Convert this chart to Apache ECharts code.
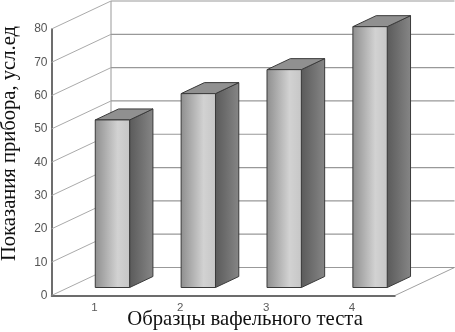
<!DOCTYPE html>
<html><head><meta charset="utf-8">
<style>html,body{margin:0;padding:0;background:#fff}#c{width:455px;height:332px}</style>
<script src="https://cdn.jsdelivr.net/npm/echarts@6/dist/echarts.min.js"></script>
</head><body><div id="c"></div>
<script>
const categories = ['1','2','3','4'];
const values = [50.3, 58.2, 65.4, 78.3];
const yTicks = [0,10,20,30,40,50,60,70,80];
const xTitle = 'Образцы вафельного теста';
const yTitle = 'Показания прибора, усл.ед';

const wallDX = 59.5, wallDY = -28;
const barDX = 18, barDY = -8, sideDX = 23.3, sideDY = -11;
const chart = echarts.init(document.getElementById('c'), null, {renderer:'canvas'});
const lg = (stops)=>new echarts.graphic.LinearGradient(0,0,1,0,stops);

chart.setOption({
  animation:false,
  backgroundColor:'#fff',
  grid:{left:51.5,right:60,top:29,bottom:36.5,containLabel:false},
  xAxis:{type:'category',data:categories,
    axisLine:{show:true,lineStyle:{color:'#3c3c3c',width:1.5}},
    axisTick:{show:false},splitLine:{show:false},
    axisLabel:{color:'#5a5a5a',fontSize:11.5,fontFamily:'Liberation Sans',margin:6}},
  yAxis:{type:'value',min:0,max:80,interval:10,
    axisLine:{show:true,lineStyle:{color:'#3c3c3c',width:1.5}},
    axisTick:{show:false},splitLine:{show:false},
    axisLabel:{color:'#555',fontSize:12,fontFamily:'Liberation Sans',margin:4}},
  graphic:[
    {type:'text',x:245,y:320,style:{text:xTitle,font:'20.7px "Liberation Serif"',fill:'#111',textAlign:'center',textVerticalAlign:'middle'}},
    {type:'text',rotation:Math.PI/2,x:10,y:143.5,style:{text:yTitle,font:'20.6px "Liberation Serif"',fill:'#111',textAlign:'center',textVerticalAlign:'middle'}}
  ],
  series:[
    {type:'custom',coordinateSystem:'cartesian2d',data:yTicks.map(v=>[0,v]),z:1,silent:true,clip:false,
      renderItem(params,api){
        const cs=params.coordSys, v=api.value(1), y=api.coord([0,v])[1];
        const x0=cs.x, x1=cs.x+cs.width;
        const children=[
          {type:'line',shape:{x1:x0,y1:y,x2:x0+wallDX,y2:y+wallDY},style:{stroke:'#aaa',lineWidth:1}},
          {type:'line',shape:{x1:x0+wallDX,y1:y+wallDY,x2:x1+wallDX,y2:y+wallDY},style:{stroke:'#999',lineWidth:1.2}}
        ];
        if(v===0){
          children.push({type:'line',shape:{x1:x1,y1:y,x2:x1+wallDX,y2:y+wallDY},style:{stroke:'#888',lineWidth:0.8}});
          children.push({type:'line',shape:{x1:x0+wallDX,y1:y+wallDY,x2:x0+wallDX,y2:cs.y+wallDY},style:{stroke:'#999',lineWidth:1}});
        }
        return {type:'group',children};
      }},
    {type:'custom',coordinateSystem:'cartesian2d',data:categories.map((c,i)=>[i,values[i]]),z:2,silent:true,clip:false,
      renderItem(params,api){
        const i=api.value(0), top=api.coord([i,api.value(1)]), base=api.coord([i,0]);
        const w=api.size([1,0])[0]*0.4;
        const l=top[0]-w/2+barDX, r=l+w, t=top[1]+barDY, b=base[1]+barDY;
        const edge={stroke:'#3a3a3a',lineWidth:1,lineJoin:'round'};
        return {type:'group',children:[
          {type:'polygon',shape:{points:[[r,t],[r+sideDX,t+sideDY],[r+sideDX,b+sideDY],[r,b]]},
            style:Object.assign({fill:lg([{offset:0,color:'#5a5a5a'},{offset:1,color:'#868686'}])},edge)},
          {type:'polygon',shape:{points:[[l,t],[l+sideDX,t+sideDY],[r+sideDX,t+sideDY],[r,t]]},
            style:Object.assign({fill:'#909090'},edge)},
          {type:'rect',shape:{x:l,y:t,width:w,height:b-t},
            style:Object.assign({fill:lg([{offset:0,color:'#8e8e8e'},{offset:0.65,color:'#d2d2d2'},{offset:1,color:'#c6c6c6'}])},edge)}
        ]};
      }}
  ]
});
</script></body></html>
